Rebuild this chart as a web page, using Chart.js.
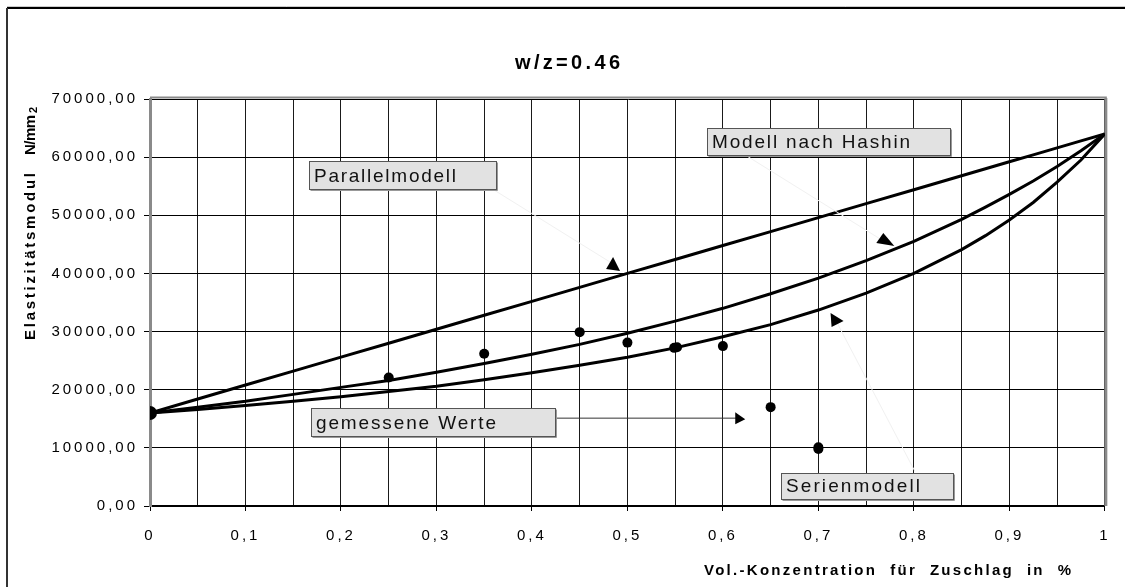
<!DOCTYPE html>
<html>
<head>
<meta charset="utf-8">
<script src="https://cdn.jsdelivr.net/npm/chart.js@4.4.1/dist/chart.umd.min.js"></script>
<style>
    html, body { margin: 0; padding: 0; background: #fff; }
    #wrap { width: 1125px; height: 587px; }
</style>
</head>
<body>
<div id="wrap"><canvas id="c" width="1125" height="587"></canvas></div>
<script>
// Werte
const vol = [0, 0.05, 0.1, 0.15, 0.2, 0.25, 0.3, 0.35, 0.4, 0.45, 0.5,
             0.55, 0.6, 0.65, 0.7, 0.75, 0.8, 0.85, 0.875, 0.9, 0.925, 0.95, 0.975, 1];
const parallelModell = [16000, 18400, 20800, 23200, 25600, 28000, 30400, 32800, 35200, 37600, 40000,
                        42400, 44800, 47200, 49600, 52000, 54400, 56800, 58000, 59200, 60400, 61600, 62800, 64000];
const hashinModell = [16000, 17000, 18000, 19200, 20400, 21600, 23000, 24500, 26100, 27800, 29700,
                      31800, 34000, 36500, 39200, 42200, 45500, 49300, 51400, 53600, 55900, 58400, 61100, 64000];
const serienModell = [16000, 16600, 17300, 18000, 18800, 19700, 20600, 21700, 22900, 24200, 25600,
                      27200, 29100, 31200, 33700, 36600, 40000, 44100, 46500, 49200, 52200, 55700, 59500, 64000];
const gemessenX = [0, 0.25, 0.35, 0.45, 0.5, 0.549, 0.552, 0.6, 0.65, 0.7, 0.7];
const gemessenY = [16000, 22100, 26200, 29900, 28100, 27200, 27300, 27500, 17000, 10100, 9800];

const xTicks = [0, 0.05, 0.1, 0.15, 0.2, 0.25, 0.3, 0.35, 0.4, 0.45, 0.5,
                0.55, 0.6, 0.65, 0.7, 0.75, 0.8, 0.85, 0.9, 0.95, 1];
const xTickLabels = ['0', '0,1', '0,2', '0,3', '0,4', '0,5', '0,6', '0,7', '0,8', '0,9', '1'];

const titleText = 'w/z=0.46';
const yTitle = ['Elastizitätsmodul', 'N/mm₂'];
const xTitle = 'Vol.-Konzentration  für  Zuschlag  in  %';

const toXY = (xs, ys) => xs.map((x, i) => ({ x: x, y: ys[i] }));

// Text auf eine bestimmte Breite spreizen (wie im Excel-Ausdruck)
function fitText(ctx, text, x, y, width) {
    ctx.letterSpacing = '0px';
    const w = ctx.measureText(text).width;
    const n = [...text].length;
    const s = n > 1 ? (width - w) / (n - 1) : 0;
    ctx.letterSpacing = s + 'px';
    ctx.textAlign = 'left';
    ctx.fillText(text, x, y);
    ctx.letterSpacing = '0px';
}

// Beschriftungsfelder: Ecken in Datenkoordinaten, Textbreite in Pixel
const labels = [
    { text: 'Parallelmodell', x0: 0.166, x1: 0.362, y0: 59420, y1: 54500, tw: 142 },
    { text: 'Modell nach Hashin', x0: 0.583, x1: 0.838, y0: 65000, y1: 60400, tw: 198 },
    { text: 'gemessene Werte', x0: 0.169, x1: 0.424, y0: 16780, y1: 12060, tw: 180 },
    { text: 'Serienmodell', x0: 0.661, x1: 0.841, y0: 5750, y1: 1150, tw: 134 }
];
const arrows = [
    { from: [0.360, 54380], to: [0.485, 41630], line: '#f1f1f1', head: [[0, -7], [-7, 5], [7, 7]] },
    { from: [0.626, 60110], to: [0.768, 45590], line: '#f1f1f1', head: [[0, -8], [-7, 2], [11, 5]] },
    { from: [0.424, 15110], to: [0.615, 15110], line: '#333', head: [[-2, -6], [-2, 6], [8, 1]] },
    { from: [0.801, 5980], to: [0.718, 32000], line: '#f1f1f1', head: [[-5, -7], [8, 1], [-4, 7]] }
];

const decoPlugin = {
    id: 'deco',
    beforeDraw(chart) {
        const ctx = chart.ctx;
        ctx.save();
        ctx.fillStyle = '#fff';
        ctx.fillRect(0, 0, chart.width, chart.height);
        ctx.restore();
        // gesperrte Achsenbeschriftung
        ctx.letterSpacing = '3px';
    },
    beforeDatasetsDraw(chart) {
        chart.ctx.letterSpacing = '0px';
        const { ctx, chartArea } = chart;
        ctx.save();
        ctx.strokeStyle = '#8a8a8a';
        ctx.lineWidth = 3;
        ctx.beginPath();
        ctx.moveTo(chartArea.right + 1, chartArea.top - 1);
        ctx.lineTo(chartArea.right + 1, chartArea.bottom);
        ctx.stroke();
        ctx.lineWidth = 2;
        ctx.beginPath();
        ctx.moveTo(chartArea.left, chartArea.top - 1.5);
        ctx.lineTo(chartArea.right + 2, chartArea.top - 1.5);
        ctx.stroke();
        ctx.restore();
    },
    afterDraw(chart) {
        const ctx = chart.ctx;
        const xs = chart.scales.x, ys = chart.scales.y;
        ctx.save();
        ctx.letterSpacing = '0px';

        // Rahmen
        ctx.strokeStyle = '#ccc';
        ctx.lineWidth = 1;
        ctx.beginPath();
        ctx.moveTo(7, 6.5); ctx.lineTo(chart.width, 6.5);
        ctx.stroke();
        ctx.strokeStyle = '#000';
        ctx.lineWidth = 2;
        ctx.beginPath();
        ctx.moveTo(7, 8); ctx.lineTo(chart.width, 8);
        ctx.stroke();
        ctx.strokeStyle = '#333';
        ctx.beginPath();
        ctx.moveTo(7, 8); ctx.lineTo(7, chart.height);
        ctx.stroke();

        // Titel
        ctx.fillStyle = '#000';
        ctx.textBaseline = 'alphabetic';
        ctx.font = 'bold 20px "Liberation Sans", Arial, sans-serif';
        fitText(ctx, titleText, 515, 69, 105);

        // Achsentitel
        ctx.font = 'bold 15px "Liberation Sans", Arial, sans-serif';
        fitText(ctx, xTitle, 704, 575, 367);
        ctx.save();
        ctx.translate(35, 340);
        ctx.rotate(-Math.PI / 2);
        fitText(ctx, yTitle[0], 0, 0, 167);
        ctx.restore();
        ctx.save();
        ctx.translate(35, 155);
        ctx.rotate(-Math.PI / 2);
        ctx.font = 'bold 15px "Liberation Sans", Arial, sans-serif';
        fitText(ctx, 'N/mm', 0, 0, 40);
        ctx.font = 'bold 11px "Liberation Sans", Arial, sans-serif';
        ctx.fillText('2', 42, 2);
        ctx.restore();

        // Pfeile
        arrows.forEach(a => {
            const fx = xs.getPixelForValue(a.from[0]), fy = ys.getPixelForValue(a.from[1]);
            const tx = xs.getPixelForValue(a.to[0]), ty = ys.getPixelForValue(a.to[1]);
            ctx.strokeStyle = a.line;
            ctx.lineWidth = 1;
            ctx.beginPath();
            ctx.moveTo(fx, fy);
            ctx.lineTo(tx, ty);
            ctx.stroke();
            ctx.fillStyle = '#000';
            ctx.beginPath();
            a.head.forEach((p, i) => {
                if (i === 0) ctx.moveTo(tx + p[0], ty + p[1]);
                else ctx.lineTo(tx + p[0], ty + p[1]);
            });
            ctx.closePath();
            ctx.fill();
        });

        // Beschriftungsfelder
        ctx.font = '19px "Liberation Sans", Arial, sans-serif';
        labels.forEach(l => {
            const x0 = Math.round(xs.getPixelForValue(l.x0)) + 0.5;
            const x1 = Math.round(xs.getPixelForValue(l.x1)) + 0.5;
            const y0 = Math.round(ys.getPixelForValue(l.y0)) + 0.5;
            const y1 = Math.round(ys.getPixelForValue(l.y1)) + 0.5;
            ctx.fillStyle = '#e2e2e2';
            ctx.fillRect(x0, y0, x1 - x0, y1 - y0);
            ctx.strokeStyle = '#555';
            ctx.lineWidth = 1;
            ctx.strokeRect(x0, y0, x1 - x0, y1 - y0);
            ctx.strokeStyle = '#999';
            ctx.beginPath();
            ctx.moveTo(x0 + 1, y1 + 1); ctx.lineTo(x1 + 1, y1 + 1); ctx.lineTo(x1 + 1, y0 + 1);
            ctx.stroke();
            ctx.fillStyle = '#111';
            fitText(ctx, l.text, x0 + 4.5, y1 - 8, l.tw);
        });
        ctx.restore();
    }
};

const curveStyle = {
    showLine: true,
    borderColor: '#000',
    borderWidth: 3,
    pointRadius: 0,
    fill: false,
    tension: 0
};

new Chart(document.getElementById('c'), {
    type: 'scatter',
    data: {
        datasets: [
            Object.assign({ label: 'Parallelmodell', data: toXY(vol, parallelModell) }, curveStyle),
            Object.assign({ label: 'Modell nach Hashin', data: toXY(vol, hashinModell) }, curveStyle),
            Object.assign({ label: 'Serienmodell', data: toXY(vol, serienModell) }, curveStyle),
            {
                label: 'gemessene Werte',
                data: toXY(gemessenX, gemessenY),
                showLine: false,
                backgroundColor: '#000',
                borderColor: '#000',
                borderWidth: 0,
                pointRadius: gemessenX.map((x, i) => i === 0 ? 7 : 5),
                pointStyle: 'circle'
            }
        ]
    },
    options: {
        responsive: false,
        animation: false,
        events: [],
        layout: { padding: { left: 0, right: 20, top: 99, bottom: 0 } },
        plugins: {
            legend: { display: false },
            title: { display: false },
            tooltip: { enabled: false }
        },
        scales: {
            x: {
                type: 'linear',
                min: 0,
                max: 1,
                afterFit: s => { s.height = 81; },
                afterBuildTicks: s => {
                    s.ticks = xTicks.map(v => ({ value: v }));
                },
                border: { display: true, color: '#000', width: 2 },
                grid: {
                    color: '#1a1a1a',
                    lineWidth: 1,
                    tickLength: 5,
                    tickColor: ctx => (ctx.index % 2 === 0 ? '#000' : 'rgba(0,0,0,0)')
                },
                ticks: {
                    autoSkip: false,
                    maxRotation: 0,
                    padding: 16,
                    color: '#000',
                    font: { family: '"Liberation Sans", Arial, sans-serif', size: 15 },
                    callback: (v, i) => (i % 2 === 0 ? xTickLabels[i / 2] : '')
                }
            },
            y: {
                type: 'linear',
                min: 0,
                max: 70000,
                afterFit: s => { s.width = 150; },
                border: { display: true, color: '#8a8a8a', width: 3 },
                grid: {
                    color: '#000',
                    lineWidth: 1,
                    tickLength: 6,
                    tickColor: '#000'
                },
                ticks: {
                    stepSize: 10000,
                    padding: 6,
                    color: '#000',
                    font: { family: '"Liberation Sans", Arial, sans-serif', size: 15 },
                    callback: v => v.toFixed(2).replace('.', ',')
                }
            }
        }
    },
    plugins: [decoPlugin]
});
</script>
</body>
</html>
